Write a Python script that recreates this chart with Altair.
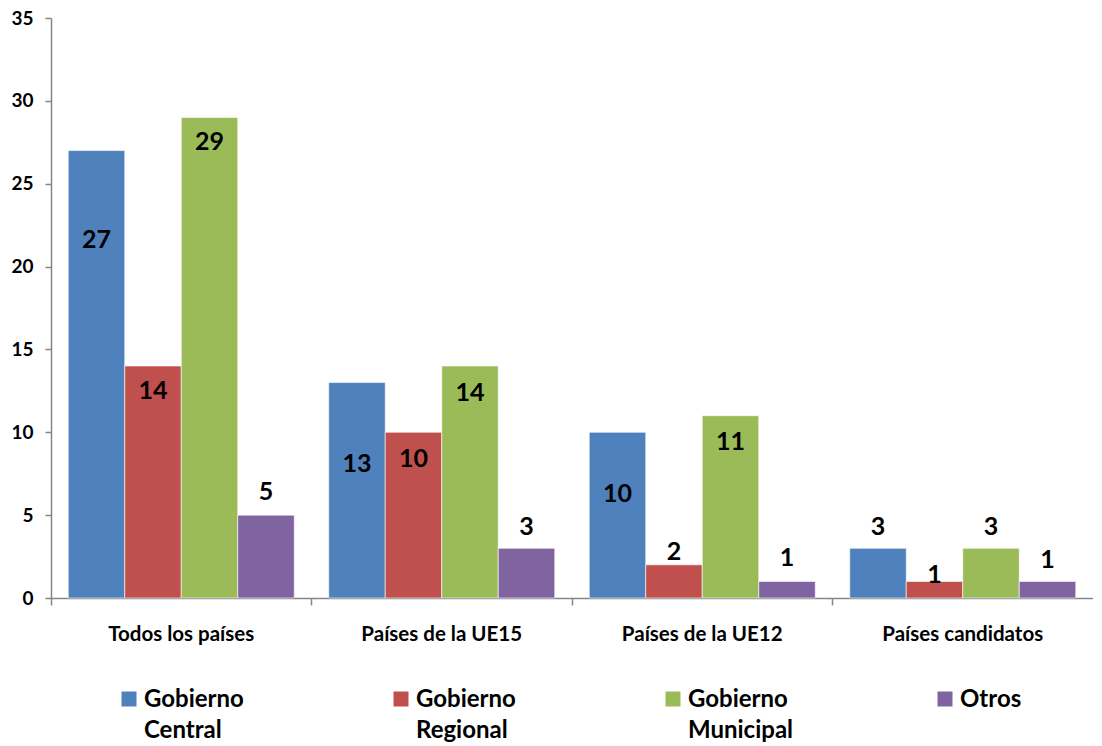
import altair as alt
import pandas as pd

categories = ["Todos los países", "Países de la UE15", "Países de la UE12", "Países candidatos"]
series = ["Gobierno Central", "Gobierno Regional", "Gobierno Municipal", "Otros"]
colors = ["#4F81BD", "#C0504D", "#9BBB59", "#8064A2"]

central = [27, 13, 10, 3]
regional = [14, 10, 2, 1]
municipal = [29, 14, 11, 3]
otros = [5, 3, 1, 1]

# where each value label sits (data units)
central_lbl = [21.6, 8.1, 6.3, 4.3]
regional_lbl = [12.5, 8.4, 2.8, 1.4]
municipal_lbl = [27.5, 12.4, 9.4, 4.3]
otros_lbl = [6.4, 4.3, 2.4, 2.3]

values = [central, regional, municipal, otros]
labels_at = [central_lbl, regional_lbl, municipal_lbl, otros_lbl]

rows = []
for s, vals, lbls in zip(series, values, labels_at):
    for c, v, l in zip(categories, vals, lbls):
        rows.append({"category": c, "series": s, "value": v, "label_at": l})
df = pd.DataFrame(rows)
legend_df = pd.DataFrame({"series": series})

W = 1042
H = 580
FONT = "Lato"
AX = "#868686"

color_enc = alt.Color("series:N", scale=alt.Scale(domain=series, range=colors), legend=None)

x_axis = alt.Axis(
    bandPosition=0, labelAngle=0, tickSize=7, tickColor=AX,
    domainColor=AX, domainWidth=1.5, tickWidth=1.5, labelPadding=19,
    labelFont=FONT, labelFontSize=20.5, labelFontWeight="bold", labelColor="black",
    labelBaseline="top",
)
y_axis = alt.Axis(
    values=[0, 5, 10, 15, 20, 25, 30, 35], grid=False, tickSize=6, tickColor=AX,
    domainColor=AX, domainWidth=1.5, tickWidth=1.5, labelPadding=12,
    labelFont=FONT, labelFontSize=19, labelFontWeight="bold", labelColor="black",
)
x_scale = alt.Scale(paddingInner=0, paddingOuter=0)
y_scale = alt.Scale(domain=[0, 35], nice=False)
x_off = alt.XOffset("series:N", sort=series, scale=alt.Scale(paddingInner=0, paddingOuter=0.305))

bars = alt.Chart(df).mark_bar(stroke="white", strokeWidth=1, strokeOpacity=0.6).encode(
    x=alt.X("category:N", sort=categories, title=None, scale=x_scale, axis=x_axis),
    xOffset=x_off,
    y=alt.Y("value:Q", title=None, scale=y_scale, axis=y_axis),
    color=color_enc,
)

text = alt.Chart(df).mark_text(
    font=FONT, fontWeight="bold", fontSize=25, color="black", baseline="middle"
).encode(
    x=alt.X("category:N", sort=categories, title=None, scale=x_scale, axis=x_axis),
    xOffset=x_off,
    y=alt.Y("label_at:Q", title=None, scale=y_scale, axis=y_axis),
    text="value:Q",
)

leg_x = alt.X("series:N", sort=series,
              scale=alt.Scale(type="point", range=[78, 894], padding=0), axis=None)
leg_sq = alt.Chart(legend_df).mark_square(size=225, opacity=1).encode(
    x=leg_x, y=alt.value(681), color=color_enc
)
leg_txt = alt.Chart(legend_df).mark_text(
    font=FONT, fontWeight="bold", fontSize=24, color="black", align="left",
    baseline="alphabetic", dx=15, lineBreak=" ", lineHeight=31,
).encode(x=leg_x, y=alt.value(689), text="series:N")

chart = alt.layer(
    alt.layer(bars, text), alt.layer(leg_sq, leg_txt)
).resolve_scale(x="independent").properties(
    width=W, height=H, padding={"left": 2, "top": 1, "right": 0, "bottom": 0}
).configure_view(stroke=None)

chart.save("out.html", embed_options={"renderer": "svg", "actions": False})
